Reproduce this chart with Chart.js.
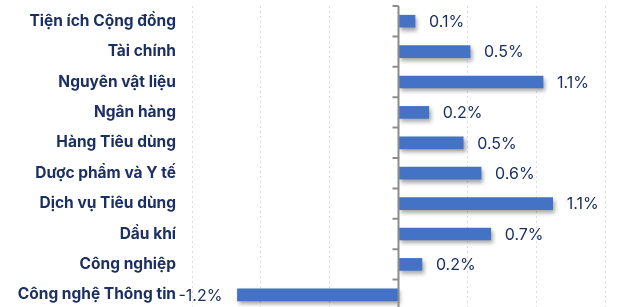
<!DOCTYPE html>
<html>
<head>
<meta charset="utf-8">
<script src="https://cdn.jsdelivr.net/npm/chart.js@4"></script>
<style>
  html, body { margin: 0; padding: 0; background: #fff; overflow: hidden; }
  #wrap { width: 626px; height: 310px; }
</style>
</head>
<body>
<div id="wrap"><canvas id="chart"></canvas></div>
<script>
const sectors = [
    "Tiện ích Cộng đồng", "Tài chính", "Nguyên vật liệu", "Ngân hàng", "Hàng Tiêu dùng",
    "Dược phẩm và Y tế", "Dịch vụ Tiêu dùng", "Dầu khí", "Công nghiệp", "Công nghệ Thông tin"
];
const changes = [0.12, 0.52, 1.05, 0.22, 0.47, 0.60, 1.12, 0.67, 0.17, -1.17];

const navy = "#1b2f63";
const barColor = "#4472c4";

// soft shadow under the bars
const shadowPlugin = {
    id: "shadow",
    beforeDatasetDraw(chart) {
        const ctx = chart.ctx;
        ctx.save();
        ctx.shadowColor = "rgba(0,0,0,0.35)";
        ctx.shadowBlur = 4;
        ctx.shadowOffsetX = 2;
        ctx.shadowOffsetY = 3;
    },
    afterDatasetDraw(chart) {
        chart.ctx.restore();
    }
};

// zero line with small ticks at category boundaries
const zeroAxis = {
    id: "zeroAxis",
    afterDatasetsDraw(chart) {
        const ctx = chart.ctx;
        const x0 = chart.scales.x.getPixelForValue(0);
        const area = chart.chartArea;
        const step = (area.bottom - area.top) / sectors.length;
        ctx.save();
        ctx.strokeStyle = "#8c8c8c";
        ctx.lineWidth = 2;
        ctx.beginPath();
        ctx.moveTo(x0, area.top);
        ctx.lineTo(x0, area.bottom);
        for (let i = 0; i <= sectors.length; i++) {
            const y = area.top + i * step;
            ctx.moveTo(x0 - 6, y);
            ctx.lineTo(x0, y);
        }
        ctx.stroke();
        ctx.restore();
    }
};

const valueLabels = {
    id: "valueLabels",
    afterDatasetsDraw(chart) {
        const ctx = chart.ctx;
        const meta = chart.getDatasetMeta(0);
        ctx.save();
        ctx.font = "16px Inter";
        ctx.fillStyle = navy;
        ctx.textBaseline = "middle";
        meta.data.forEach((bar, i) => {
            const v = changes[i];
            const txt = v.toFixed(1) + "%";
            if (v >= 0) {
                ctx.textAlign = "left";
                ctx.fillText(txt, bar.x + 14, bar.y + 1);
            } else {
                ctx.textAlign = "right";
                ctx.fillText(txt, bar.x - 15, bar.y + 1);
            }
        });
        ctx.restore();
    }
};

new Chart(document.getElementById("chart"), {
    type: "bar",
    data: {
        labels: sectors,
        datasets: [{
            data: changes,
            backgroundColor: barColor,
            barThickness: 12,
            borderSkipped: false
        }]
    },
    options: {
        indexAxis: "y",
        animation: false,
        responsive: true,
        maintainAspectRatio: false,
        layout: { autoPadding: false, padding: { top: 6, right: 21, bottom: 0, left: 0 } },
        plugins: { legend: { display: false }, tooltip: { enabled: false } },
        scales: {
            x: {
                min: -1.5,
                max: 1.5,
                ticks: { display: false, stepSize: 0.5 },
                border: { display: false, dash: [2, 3] },
                grid: {
                    drawTicks: false,
                    color: ctx => ctx.tick && ctx.tick.value === 0 ? "rgba(0,0,0,0)" : "#dcdcdc",
                    lineWidth: 1
                },
                afterFit: s => { s.height = 0; }
            },
            y: {
                border: { display: false },
                grid: { display: false, drawTicks: false },
                ticks: {
                    color: navy,
                    padding: 16,
                    font: { family: "Inter", size: 15.5, weight: "bold" }
                },
                afterFit: s => { s.width = 192; s.paddingTop = 0; s.paddingBottom = 0; }
            }
        }
    },
    plugins: [shadowPlugin, zeroAxis, valueLabels]
});
</script>
</body>
</html>
